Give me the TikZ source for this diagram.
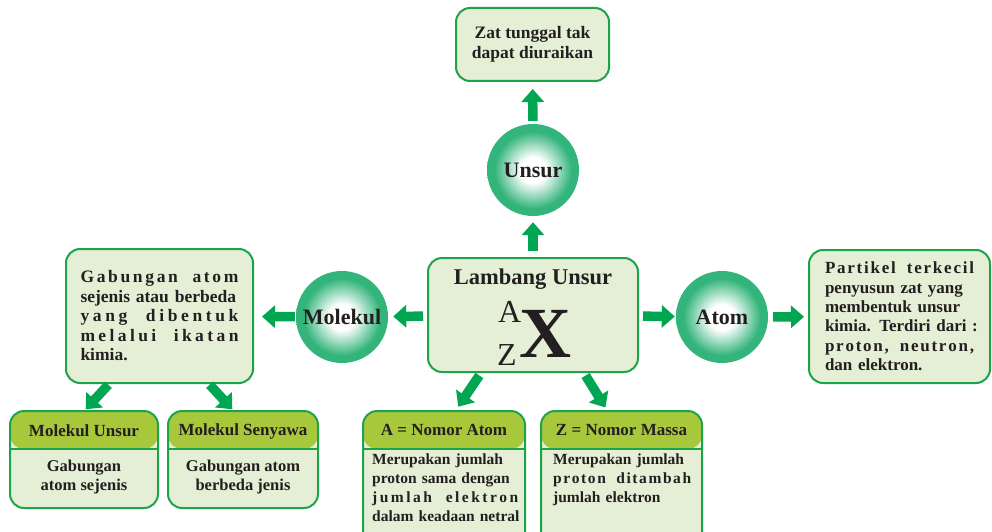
\documentclass[tikz,border=0pt]{standalone}
\usepackage{fontspec}
\setmainfont{Liberation Serif}
\usetikzlibrary{arrows.meta}
\definecolor{bord}{HTML}{1DA34A}
\definecolor{pale}{HTML}{E4EFD5}
\definecolor{headc}{HTML}{A8C83C}
\definecolor{arr}{HTML}{00A651}
\definecolor{ballc}{HTML}{33B47B}
\definecolor{ink}{HTML}{231F20}
\pgfdeclareradialshading{ballshade}{\pgfpoint{0bp}{0bp}}{color(0bp)=(white); color(7bp)=(white); color(21bp)=(ballc); color(50bp)=(ballc)}
\newcommand\myfs[2]{\fontsize{#1}{#2}\selectfont}
\newcommand\jline[2]{\makebox[#1][s]{#2}}
\newcommand\g{\hskip0pt plus1fil\relax}
\newcommand\w{\hskip4pt plus4fil\relax}
\tikzset{
  panel/.style={draw=bord, line width=2pt, fill=pale, rounded corners=14pt, inner sep=0pt, text=ink, font=\bfseries},
  headpanel/.style={panel, path picture={
      \fill[headc] (path picture bounding box.north west) rectangle ([yshift=-38pt]path picture bounding box.north east);
      \draw[bord, line width=1.5pt] ([yshift=-38pt]path picture bounding box.north west) -- ([yshift=-38pt]path picture bounding box.north east);}},
  ballnode/.style={circle, minimum size=92pt, shading=ballshade, inner sep=0pt, text=ink, font=\myfs{22}{24}\bfseries},
  fat/.style={draw=arr, line width=9.5pt, -{Triangle[width=22pt,length=13pt]}, shorten <=5pt, shorten >=5pt},
  headtxt/.style={text=ink, font=\myfs{17}{20}\bfseries, inner sep=0pt},
  bodytxt/.style={text=ink, font=\myfs{16.5}{19}\bfseries, inner sep=0pt, align=center},
  bodyjust/.style={text=ink, font=\myfs{15.5}{19}\bfseries, inner sep=0pt, align=left, anchor=north west},
}
\begin{document}
\begin{tikzpicture}[x=1pt,y=-1pt]
\useasboundingbox (0,0) rectangle (992,532);

% top box
\node[panel, minimum width=153pt, minimum height=73pt, align=center, font=\myfs{17.5}{20}\bfseries] (zat) at (532.5,44.5) {Zat tunggal tak\\dapat diuraikan};

% circles
\node[ballnode] (unsur) at (533,170) {Unsur};
\node[ballnode] (molekul) at (342,317) {Molekul};
\node[ballnode] (atom) at (722,317) {Atom};

% central box
\node[panel, minimum width=210pt, minimum height=114pt] (lambang) at (533,315) {};
\node[text=ink, font=\myfs{22.5}{25}\bfseries, inner sep=0pt] (ltitle) at (533,279) {Lambang Unsur};
\node[text=ink, font=\myfs{32}{34}, inner sep=0pt, anchor=base west] (symA) at (498,322) {A};
\node[text=ink, font=\myfs{32}{34}, inner sep=0pt, anchor=base west] (symZ) at (497,365) {Z};
\node[text=ink, font=\myfs{72}{74}\bfseries, inner sep=0pt, anchor=base west] (symX) at (519,357) {X};

% left description
\node[panel, minimum width=187pt, minimum height=134pt, text width=158pt, align=left, font=\myfs{17.5}{19.5}\bfseries] (gab) at (159.5,316) {%
\jline{158pt}{G\g a\g b\g u\g n\g g\g a\g n\w a\g t\g o\g m}\\
\jline{158pt}{sejenis atau berbeda}\\
\jline{158pt}{y\g a\g n\g g\w d\g i\g b\g e\g n\g t\g u\g k}\\
\jline{158pt}{m\g e\g l\g a\g l\g u\g i\w i\g k\g a\g t\g a\g n}\\
kimia.};

% right description
\node[panel, minimum width=181pt, minimum height=133pt, text width=149pt, align=left, font=\myfs{17}{19.4}\bfseries] (atombox) at (899.5,316.5) {%
\jline{149pt}{P\g a\g r\g t\g i\g k\g e\g l\w t\g e\g r\g k\g e\g c\g i\g l}\\
\jline{149pt}{penyusun zat yang}\\
\jline{149pt}{membentuk unsur}\\
\jline{149pt}{kimia. Terdiri dari :}\\
\jline{149pt}{p\g r\g o\g t\g o\g n\g ,\w n\g e\g u\g t\g r\g o\g n\g ,}\\
dan elektron.};

% lower boxes
\node[headpanel, minimum width=148pt, minimum height=97pt] (mu) at (84,459.5) {};
\node[headtxt] (mut) at (84,431) {Molekul Unsur};
\node[bodytxt] (mub) at (84,477) {Gabungan\\atom sejenis};

\node[headpanel, minimum width=150pt, minimum height=97pt] (ms) at (243,459.5) {};
\node[headtxt] (mst) at (243,431) {Molekul Senyawa};
\node[bodytxt] (msb) at (243,477) {Gabungan atom\\berbeda jenis};

\node[headpanel, minimum width=162pt, minimum height=136pt] (an) at (444,479) {};
\node[headtxt] (ant) at (444,430) {A = Nomor Atom};
\node[bodyjust, text width=146pt] (anb) at (372,454) {%
\jline{146pt}{Merupakan jumlah}\\
\jline{146pt}{proton sama dengan}\\
\jline{146pt}{j\g u\g m\g l\g a\g h\w e\g l\g e\g k\g t\g r\g o\g n}\\
\jline{146pt}{dalam keadaan netral}};

\node[headpanel, minimum width=161pt, minimum height=136pt] (zn) at (621.5,479) {};
\node[headtxt] (znt) at (621.5,430) {Z = Nomor Massa};
\node[bodyjust, text width=138pt] (znb) at (553,454) {%
\jline{138pt}{Merupakan jumlah}\\
\jline{138pt}{p\g r\g o\g t\g o\g n\w d\g i\g t\g a\g m\g b\g a\g h}\\
jumlah elektron};

% arrows
\draw[fat, shorten <=3pt, shorten >=7pt] (unsur) -- (zat);
\draw[fat, shorten <=6pt, shorten >=6pt] (lambang) -- (unsur);
\draw[fat, shorten <=4pt, shorten >=5pt] (lambang) -- (molekul);
\draw[fat, shorten <=1pt, shorten >=8pt] (molekul) -- (gab);
\draw[fat, shorten <=4pt, shorten >=1pt] (lambang) -- (atom);
\draw[fat, shorten <=5pt, shorten >=4pt] (atom) -- (atombox);
\draw[fat, shorten <=1pt, shorten >=1pt] ([xshift=44pt]gab.south west) -- ([xshift=76pt]mu.north west);
\draw[fat, shorten <=1pt, shorten >=1pt] ([xshift=144pt]gab.south west) -- ([xshift=66pt]ms.north west);
\draw[fat, shorten <=3pt, shorten >=4pt] ([xshift=54pt]lambang.south west) -- ([xshift=94pt]an.north west);
\draw[fat, shorten <=3pt, shorten >=3pt] ([xshift=157pt]lambang.south west) -- ([xshift=67pt]zn.north west);
\end{tikzpicture}
\end{document}
